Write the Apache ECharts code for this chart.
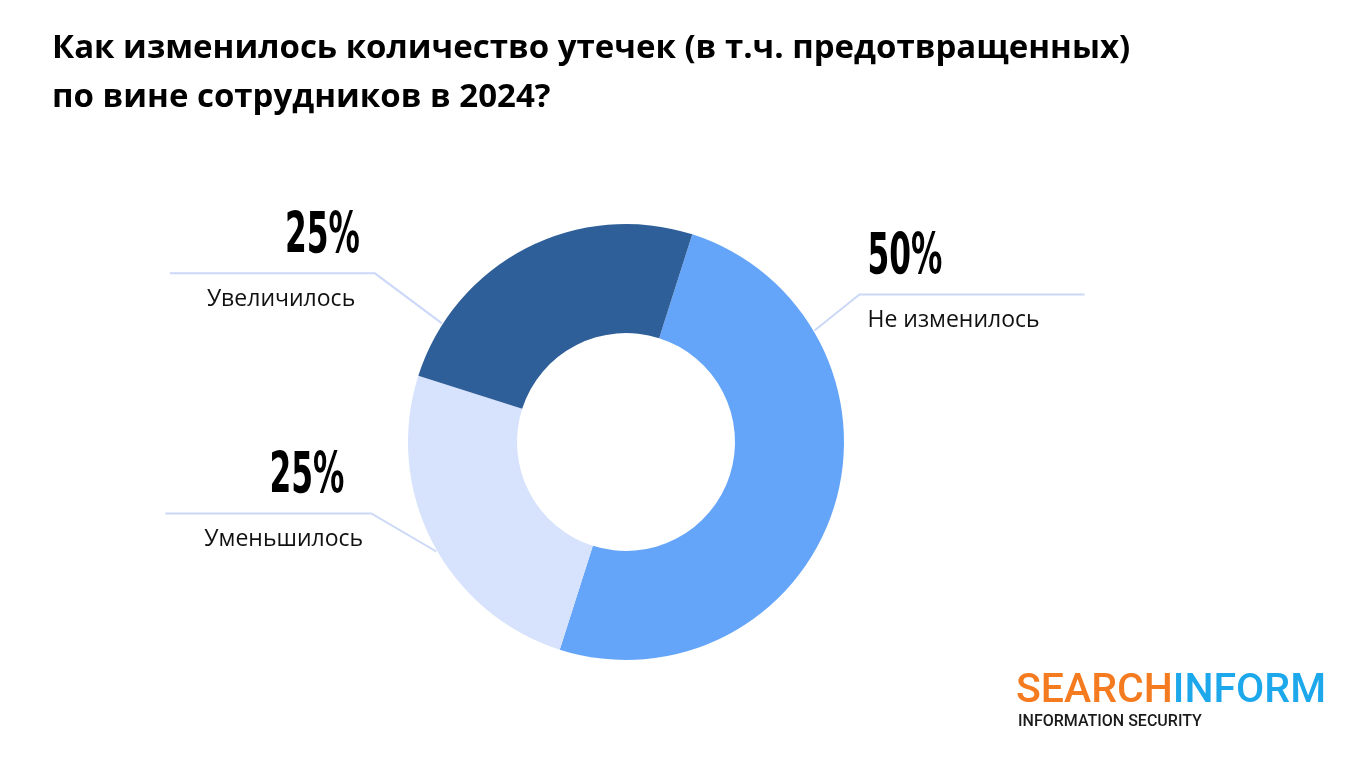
<!DOCTYPE html>
<html><head><meta charset="utf-8">
<script src="https://cdn.jsdelivr.net/npm/echarts@6/dist/echarts.min.js"></script>
<style>html,body{margin:0;padding:0;background:#fff}#c{width:1359px;height:768px}</style>
</head><body><div id="c"></div>
<script>
const TITLE_LINES = ['Как изменилось количество утечек (в т.ч. предотвращенных)', 'по вине сотрудников в 2024?'];
const categories = ['Не изменилось', 'Уменьшилось', 'Увеличилось'];
const values = [50, 25, 25];
const colors = ['#65A5F9', '#D7E2FC', '#2F5F99'];
const LOGO_A = 'SEARCH', LOGO_B = 'INFORM', LOGO_SUB = 'INFORMATION SECURITY';

// layout (not data)
const CX = 626, CY = 442, R0 = 109, R1 = 218;
const LABEL_LAYOUT = [
  {angle: 59.4, ex: 45, ey: -36, len: 225, side: 'right', textGap: 8},
  {angle: 240, ex: -65, ey: -38, len: 206, side: 'left', nameGap: 39, pGap: 27},
  {angle: 302.8, ex: -67, ey: -50, len: 205, side: 'left', nameGap: 37, pGap: 15}
];
function geom(i) {
  const L = LABEL_LAYOUT[i];
  const a = L.angle * Math.PI / 180;
  const sx = CX + (R1 + 1) * Math.sin(a), sy = CY - (R1 + 1) * Math.cos(a);
  const ex = sx + L.ex, ey = sy + L.ey;
  const endX = L.side === 'right' ? ex + L.len : ex - L.len;
  const x = L.side === 'right' ? ex + L.textGap : endX + L.nameGap;
  const px = L.side === 'right' ? ex + L.textGap : ex - L.pGap;
  return {sx, sy, ex, ey, endX, x, px, side: L.side};
}

const PCT_FONT = '"DejaVu Sans Condensed","DejaVu Sans",sans-serif';
const data = categories.map((name, i) => ({
  name: name, value: values[i], itemStyle: {color: colors[i]}
}));

// percentage texts (condensed look via horizontal scale)
const pctGraphics = values.map((v, i) => {
  const g = geom(i);
  return {
    type: 'text', x: g.px, y: g.ey - 35, scaleX: 0.61, silent: true,
    style: {
      text: v + '%', fontFamily: PCT_FONT, fontWeight: 'bold', fontSize: 57, fill: '#000',
      align: g.side === 'right' ? 'left' : 'right', verticalAlign: 'middle'
    }
  };
});

const chart = echarts.init(document.getElementById('c'));
chart.setOption({
  backgroundColor: '#fff',
  animation: false,
  title: {
    text: TITLE_LINES.join('\n'),
    left: 47, top: 19,
    textStyle: {fontFamily: '"Open Sans",sans-serif', fontWeight: 'bold', fontSize: 33, lineHeight: 49, color: '#000'}
  },
  graphic: pctGraphics.concat([
    {type: 'text', left: 1016, top: 671,
      style: {text: '{a|' + LOGO_A + '}{b|' + LOGO_B + '}',
        rich: {
          a: {fontFamily: 'Roboto', fontWeight: 500, fontSize: 41, fill: '#F47B20'},
          b: {fontFamily: 'Roboto', fontWeight: 500, fontSize: 41, fill: '#1DA8EC'}
        }}},
    {type: 'text', left: 1018, top: 714,
      style: {text: LOGO_SUB, fontFamily: 'Roboto', fontWeight: 500, fontSize: 16, fill: '#1a1a1a'}}
  ]),
  series: [{
    type: 'pie',
    center: [CX, CY],
    radius: [R0, R1],
    startAngle: 72.3,
    clockwise: true,
    avoidLabelOverlap: false,
    emphasis: {disabled: true},
    label: {
      show: true,
      position: 'outside',
      formatter: '{b}',
      fontFamily: '"Open Sans",sans-serif', fontSize: 23, lineHeight: 30, color: '#111',
      overflow: 'none'
    },
    labelLine: {show: true, length: 20, length2: 20, lineStyle: {color: '#CBD8F7', width: 2}},
    labelLayout: function (params) {
      const g = geom(params.dataIndex);
      return {
        x: g.x, y: g.ey + 26,
        align: 'left', verticalAlign: 'middle',
        labelLinePoints: [[g.sx, g.sy], [g.ex, g.ey], [g.endX, g.ey]]
      };
    },
    data: data
  }]
});
</script></body></html>
